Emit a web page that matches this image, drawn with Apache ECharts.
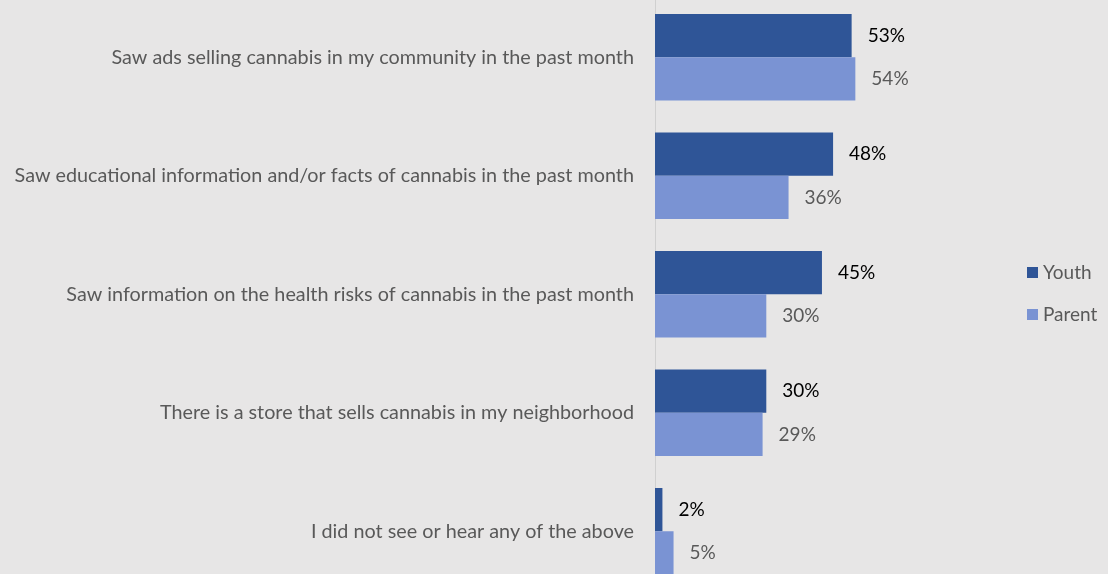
<!DOCTYPE html>
<html><head><meta charset="utf-8">
<script src="https://cdn.jsdelivr.net/npm/echarts@6/dist/echarts.min.js"></script>
<style>html,body{margin:0;padding:0;background:#e7e6e6;}#c{width:1108px;height:574px;}</style>
</head><body><div id="c"></div>
<script>
const categories = [
  "Saw ads selling cannabis in my community in the past month",
  "Saw educational information and/or facts of cannabis in the past month",
  "Saw information on the health risks of cannabis in the past month",
  "There is a store that sells cannabis in my neighborhood",
  "I did not see or hear any of the above"
];
const youth = [53, 48, 45, 30, 2];
const parent = [54, 36, 30, 29, 5];
const seriesNames = ["Youth", "Parent"];

const font = "Lato, 'Open Sans', sans-serif";
const chart = echarts.init(document.getElementById('c'), null, {renderer: 'canvas'});
chart.setOption({
  backgroundColor: '#e7e6e6',
  animation: false,
  legend: {
    orient: 'vertical', left: 1027, top: 263, padding: 0, itemWidth: 11, itemHeight: 11, itemGap: 23, itemTextGap: 5,
    icon: 'rect',
    textStyle: {color: '#595959', fontSize: 19, fontFamily: font},
    data: seriesNames
  },
  grid: {left: 655, top: -2, width: 371, height: 592.5, containLabel: false, outerBoundsMode: 'none'},
  xAxis: {type: 'value', min: 0, max: 100, show: false},
  yAxis: {
    type: 'category', data: categories, inverse: true,
    axisLine: {show: true, lineStyle: {color: '#d0d0d0', width: 1}},
    axisTick: {show: false},
    axisLabel: {color: '#595959', fontSize: 19.8, fontFamily: font, margin: 21}
  },
  series: [
    {name: seriesNames[0], type: 'bar', data: youth, barGap: '0%', barCategoryGap: '27%',
     itemStyle: {color: '#2f5597'},
     label: {show: true, position: 'right', distance: 16, formatter: '{c}%', color: '#000', fontSize: 19, fontFamily: font}},
    {name: seriesNames[1], type: 'bar', data: parent, barGap: '0%', barCategoryGap: '27%',
     itemStyle: {color: '#7a93d3'},
     label: {show: true, position: 'right', distance: 16, formatter: '{c}%', color: '#595959', fontSize: 19, fontFamily: font}}
  ]
});
</script></body></html>
